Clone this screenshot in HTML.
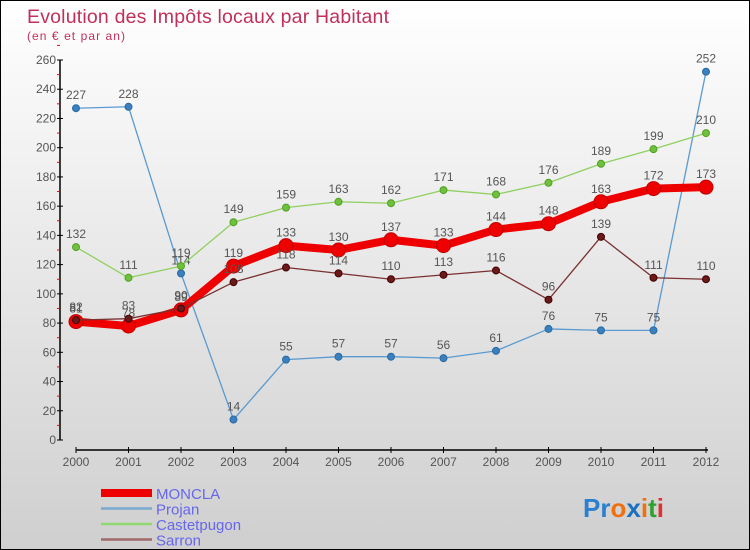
<!DOCTYPE html>
<html><head><meta charset="utf-8"><style>
html,body{margin:0;padding:0}
body{width:750px;height:550px;overflow:hidden;font-family:"Liberation Sans",sans-serif}
#wrap{position:relative;width:748px;height:548px;border:1px solid #000;background:linear-gradient(#ffffff,#cfcfcf)}
</style></head><body>
<div id="wrap">
<svg id="chart" width="748" height="548" style="position:absolute;left:0;top:0"></svg>
</div>
<script>
const years=[2000,2001,2002,2003,2004,2005,2006,2007,2008,2009,2010,2011,2012];
const moncla=[81,78,89,119,133,130,137,133,144,148,163,172,173];
const projan=[227,228,114,14,55,57,57,56,61,76,75,75,252];
const castet=[132,111,119,149,159,163,162,171,168,176,189,199,210];
const sarron=[82,83,90,108,118,114,110,113,116,96,139,111,110];
const yTicks=[0,20,40,60,80,100,120,140,160,180,200,220,240,260];
const NS="http://www.w3.org/2000/svg";
const svg=document.getElementById('chart');
function X(i){return 75+i*52.5;}
function Y(v){return 439-v*380/260;}
function el(t,a,p){const e=document.createElementNS(NS,t);for(const k in a)e.setAttribute(k,a[k]);(p||svg).appendChild(e);return e;}
let t=el('text',{x:26,y:22,fill:'#c0305a','font-size':19.5,textLength:362});t.textContent='Evolution des Impôts locaux par Habitant';

t=el('text',{x:26,y:39,fill:'#c0305a','font-size':12,textLength:98});t.textContent='(en € et par an)';

let ax=el('line',{x1:59,y1:Y(0),x2:59,y2:Y(260),stroke:'#000','stroke-width':1.5});

yTicks.forEach(v=>{el('line',{x1:56,x2:62,y1:Y(v),y2:Y(v),stroke:'#000'});
 el('line',{x1:56,x2:59,y1:Y(v+10),y2:Y(v+10),stroke:'#e00'});
 const tx=el('text',{x:55,y:Y(v)+4,'text-anchor':'end','font-size':12,fill:'#555'});tx.textContent=v;
 });
ax=el('line',{x1:75,y1:449,x2:707,y2:449,stroke:'#000','stroke-width':1.5});

years.forEach((y,i)=>{el('line',{x1:X(i),x2:X(i),y1:446,y2:452,stroke:'#000'});
 const tx=el('text',{x:X(i),y:465,'text-anchor':'middle','font-size':12,fill:'#555'});tx.textContent=y;
 });
function series(data,color,dot,stroke,w,r,name){
 const g=el('g',{});
 el('polyline',{points:data.map((v,i)=>X(i)+','+Y(v)).join(' '),fill:'none',stroke:color,'stroke-width':w,'stroke-linejoin':'round'},g);
 data.forEach((v,i)=>{const c=el('circle',{cx:X(i),cy:Y(v),r:r,fill:dot,stroke:stroke,'stroke-width':1},g);
  
  const tx=el('text',{x:X(i),y:Y(v)-9,'text-anchor':'middle','font-size':12,fill:'#555'},g);tx.textContent=v;});
}
series(projan,'#5a9ad0','#3a80c0','#2a6aa0',1.3,3.5,'projan');
series(castet,'#8fd060','#70c040','#50a020',1.3,3.5,'castetpugon');
series(moncla,'#ee0000','#ee0000','#c00000',8,7,'moncla');
series(sarron,'#7a3030','#6a1a1a','#400',1.3,3.5,'sarron');
const leg=[['MONCLA','#ee0000',8],['Projan','#7aaad0',2.5],['Castetpugon','#90d870',2.5],['Sarron','#a06a6a',2.5]];
leg.forEach((l,i)=>{const g=el('g',{});
 const yy=492+i*15.5;el('line',{x1:100,x2:151,y1:yy,y2:yy,stroke:l[1],'stroke-width':l[2]},g);
 const tx=el('text',{x:155,y:yy+6,'font-size':15,fill:'#6666ee'},g);tx.textContent=l[0];});
const lg=el('text',{x:582,y:516,'font-size':26,'font-weight':'bold'});

[['Pr','#2a80d0'],['o','#f07010'],['x','#1a70c0'],['i','#f07010'],['t','#30a030'],['i','#e03030']].forEach(p=>{const s=el('tspan',{fill:p[1]},lg);s.textContent=p[0];});
</script>
</body></html>
